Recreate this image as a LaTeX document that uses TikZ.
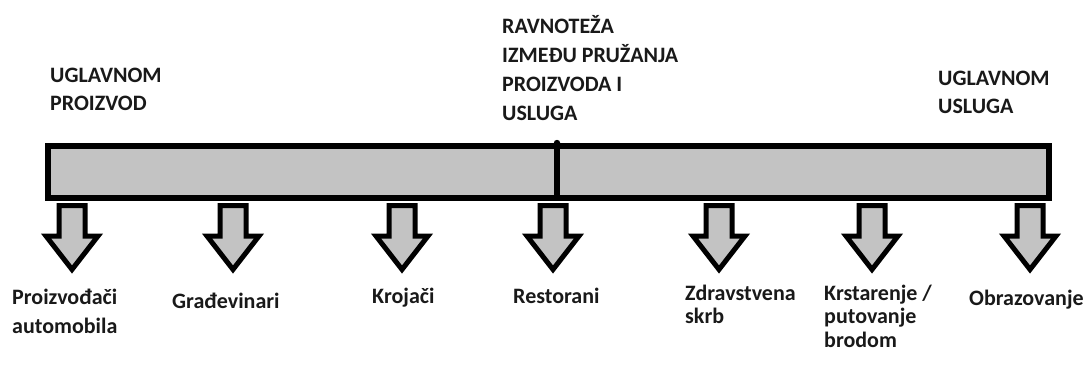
\documentclass[tikz,border=0pt]{standalone}
\usepackage{fontspec}
\setmainfont{Carlito}
\definecolor{barfill}{RGB}{195,195,195}
\definecolor{txt}{RGB}{25,25,25}
\tikzset{
  lbl/.style={anchor=base west, inner sep=0pt, align=left, text=txt,
    font=\bfseries\fontsize{22}{29}\selectfont},
  lbltight/.style={lbl, font=\bfseries\fontsize{22}{23.5}\selectfont},
  lblhead/.style={lbl, font=\bfseries\fontsize{22}{28}\selectfont},
  barbox/.style={draw=black, line width=6pt, fill=barfill, rectangle,
    minimum width=1001pt, minimum height=52pt, inner sep=0pt},
  divider/.style={draw=black, line width=6pt},
  blockarrow/.style={draw=black, line width=5pt, fill=barfill, line join=miter}
}
\newcommand{\downarrowblock}[1]{%
  \draw[blockarrow] ([xshift=-13pt]#1) -- ([xshift=13pt]#1)
    -- ([xshift=13pt,yshift=-30.5pt]#1) -- ([xshift=26pt,yshift=-30.5pt]#1)
    -- ([yshift=-64pt]#1) -- ([xshift=-26pt,yshift=-30.5pt]#1)
    -- ([xshift=-13pt,yshift=-30.5pt]#1) -- cycle;}
\begin{document}
\begin{tikzpicture}[x=1pt,y=1pt]
\useasboundingbox (0,0) rectangle (1086,368);
\node[barbox] (bar) at (548.5,196) {};
\coordinate (dtop) at (557,225);
\coordinate (dbot) at (557,170);
\draw[divider] (dtop) -- (dbot);
\fill (dtop) circle (3.2pt);
% arrows
\coordinate (a1) at (72,162.5);
\coordinate (a2) at (233,162.5);
\coordinate (a3) at (402,162.5);
\coordinate (a4) at (553,162.5);
\coordinate (a5) at (719,162.5);
\coordinate (a6) at (872,162.5);
\coordinate (a7) at (1030,162.5);
\downarrowblock{a1}
\downarrowblock{a2}
\downarrowblock{a3}
\downarrowblock{a4}
\downarrowblock{a5}
\downarrowblock{a6}
\downarrowblock{a7}
% top labels (anchor = baseline of last line)
\node[lblhead] (tl) at (50,258) {UGLAVNOM\\PROIZVOD};
\node[lbl] (tm) at (502,248) {RAVNOTEŽA\\IZMEĐU PRUŽANJA\\PROIZVODA I\\USLUGA};
\node[lblhead] (tr) at (938,255) {UGLAVNOM\\USLUGA};
% bottom labels
\node[lbl] (l1) at (12,35) {Proizvođači\\automobila};
\node[lbl] (l2) at (172,60) {Građevinari};
\node[lbl] (l3) at (372,65) {Krojači};
\node[lbl] (l4) at (513,65) {Restorani};
\node[lbltight] (l5) at (685,44.5) {Zdravstvena\\skrb};
\node[lbltight] (l6) at (824,21) {Krstarenje /\\putovanje\\brodom};
\node[lbl] (l7) at (969,63) {Obrazovanje};
\end{tikzpicture}
\end{document}
